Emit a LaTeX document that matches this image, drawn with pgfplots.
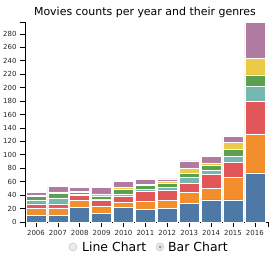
\documentclass[border=0pt]{standalone}
\usepackage{fontspec}
\setmainfont{DejaVu Sans}
\usepackage{pgfplots}
\usepackage{pgfplotstable}
\pgfplotsset{compat=1.18}
\definecolor{cblue}{HTML}{4E79A7}
\definecolor{corange}{HTML}{F28E2B}
\definecolor{cred}{HTML}{E15759}
\definecolor{cteal}{HTML}{76B7B2}
\definecolor{cgreen}{HTML}{59A14F}
\definecolor{cyellow}{HTML}{EDC948}
\definecolor{cpurple}{HTML}{B07AA1}
\pgfplotstableread{
x a b c d e f g
0 10 10 7 6 5 2 4
1 10 11 6 9 7 2 8
2 22 10 8 2 2 2 6
3 13 10 10 1 5 3 9
4 22 7 9 4 7 2 9
5 19 12 15 2 6 2 7
6 20 12 15 4 7 3 3
7 28 16 13 9 6 8 11
8 33 17 21 6 8 3 10
9 33 33 23 9 10 10 9
10 73 58 48 23 17 25 53
}\data
\begin{document}
\begin{tikzpicture}
\begin{axis}[
  scale only axis, width=243bp, height=199.6bp,
  xmin=-0.5, xmax=10.6, ymin=0, ymax=297,
  enlargelimits=false,
  ybar stacked, bar width=20bp,
  axis lines*=left,
  axis line style={black, line width=0.6pt},
  xtick={0,...,10},
  xticklabels={2006,2007,2008,2009,2010,2011,2012,2013,2014,2015,2016},
  ytick={0,20,...,280},
  extra x ticks={-0.5,10.6}, extra x tick labels={},
  extra y ticks={297}, extra y tick labels={},
  tick align=outside, major tick length=5bp,
  tick style={black, line width=0.6pt},
  ticklabel style={font=\fontsize{7}{8}\selectfont, text=black!85},
  /pgf/number format/assume math mode=true,
  every axis plot/.append style={draw=white, line width=0.5pt},
]
\addplot[fill=cblue] table[x=x,y=a]{\data};
\addplot[fill=corange] table[x=x,y=b]{\data};
\addplot[fill=cred] table[x=x,y=c]{\data};
\addplot[fill=cteal] table[x=x,y=d]{\data};
\addplot[fill=cgreen] table[x=x,y=e]{\data};
\addplot[fill=cyellow] table[x=x,y=f]{\data};
\addplot[fill=cpurple] table[x=x,y=g]{\data};
\end{axis}
\node[font=\fontsize{11}{13}\selectfont] at (120bp,210bp) {Movies counts per year and their genres};
\node[circle, draw=gray!55, fill=gray!15, minimum size=8bp, inner sep=0pt] at (48bp,-25bp) {};
\node[anchor=west, font=\fontsize{12.5}{14}\selectfont, inner sep=0pt] at (57bp,-25bp) {Line Chart};
\node[circle, draw=gray!55, fill=gray!15, minimum size=8bp, inner sep=0pt] at (135bp,-25bp) {};
\node[circle, fill=gray!75, minimum size=3.5bp, inner sep=0pt] at (135bp,-25bp) {};
\node[anchor=west, font=\fontsize{12.5}{14}\selectfont, inner sep=0pt] at (143bp,-25bp) {Bar Chart};
\pgfresetboundingbox
\path[use as bounding box] (-25bp,-35bp) rectangle (245bp,222bp);
\end{tikzpicture}
\end{document}
